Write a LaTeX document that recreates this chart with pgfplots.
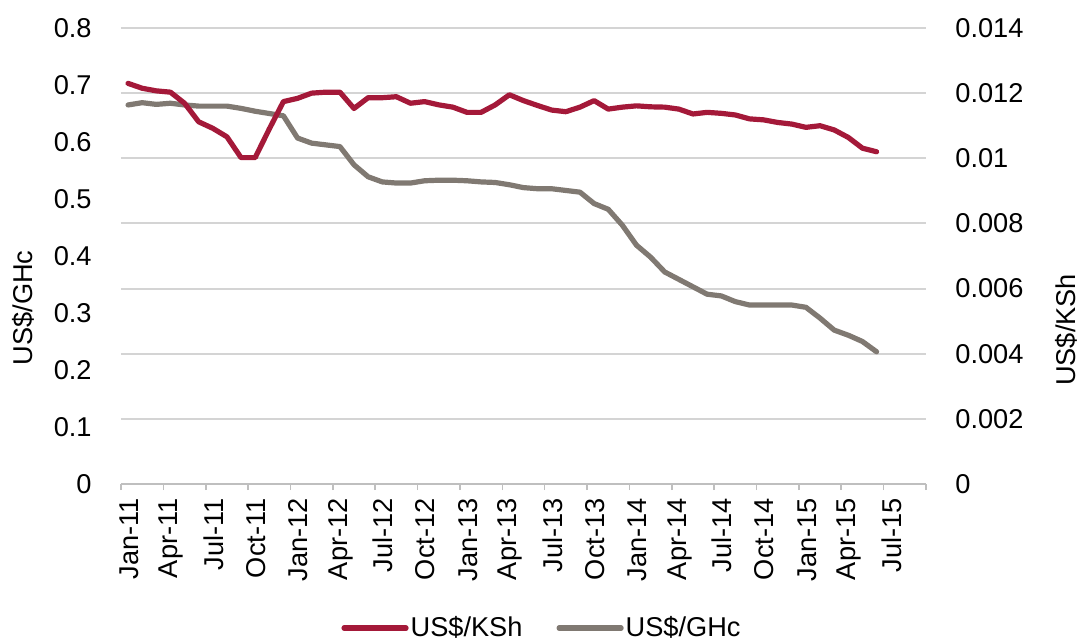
\documentclass[border=0pt]{standalone}
\usepackage{pgfplots}
\pgfplotsset{compat=1.18}
\usepackage{fontspec}
\setmainfont{Liberation Sans}
\definecolor{kshred}{RGB}{164,25,57}
\definecolor{ghcgray}{RGB}{128,121,114}
\definecolor{gridgray}{RGB}{212,212,212}
\definecolor{axgray}{RGB}{191,191,191}
\begin{document}
\begin{tikzpicture}[font=\fontsize{13.6}{16}\selectfont]
\path[use as bounding box] (-60.5pt,-79.5pt) rectangle (478.5pt,242pt);
\begin{axis}[
  at={(0,0)}, anchor=south west,
  scale only axis, width=402.5pt, height=228pt,
  xmin=0, xmax=57, ymin=0, ymax=0.8,
  axis x line*=bottom, axis y line*=left,
  y axis line style={draw=none},
  x axis line style={axgray, line width=0.8pt},
  xtick={0,3,...,57},
  xticklabels={Jan-11,Apr-11,Jul-11,Oct-11,Jan-12,Apr-12,Jul-12,Oct-12,Jan-13,Apr-13,Jul-13,Oct-13,Jan-14,Apr-14,Jul-14,Oct-14,Jan-15,Apr-15,Jul-15,{}},
  xtick style={axgray, line width=0.8pt},
  tick align=outside, major tick length=3pt,
  xticklabel style={rotate=90, anchor=east, xshift=-4pt, inner sep=0pt, yshift=-4pt},
  ytick={0,0.1,0.2,0.3,0.4,0.5,0.6,0.7,0.8},
  yticklabels={0,0.1,0.2,0.3,0.4,0.5,0.6,0.7,0.8},
  ytick style={draw=none},
  yticklabel style={anchor=east, inner sep=0pt, xshift=-11.5pt},
  extra y ticks={0.1142857,0.2285714,0.3428571,0.4571429,0.5714286,0.6857143,0.8},
  extra y tick labels={},
  extra y tick style={ymajorgrids=true, major grid style={gridgray, line width=1pt}, tick style={draw=none}},
  ylabel={US\$/GHc},
  every axis y label/.style={at={(axis description cs:-0.1217,0.386)}, rotate=90, anchor=center},
  clip=false,
]
\addplot[ghcgray, line width=2.6pt, line join=round, line cap=round] table {
x y
0.5 0.665
1.5 0.669
2.5 0.666
3.5 0.668
4.5 0.665
5.5 0.663
6.5 0.663
7.5 0.663
8.5 0.659
9.5 0.654
10.5 0.650
11.5 0.646
12.5 0.607
13.5 0.598
14.5 0.595
15.5 0.592
16.5 0.560
17.5 0.539
18.5 0.530
19.5 0.528
20.5 0.528
21.5 0.532
22.5 0.533
23.5 0.533
24.5 0.532
25.5 0.530
26.5 0.529
27.5 0.525
28.5 0.520
29.5 0.518
30.5 0.518
31.5 0.515
32.5 0.512
33.5 0.492
34.5 0.482
35.5 0.454
36.5 0.419
37.5 0.398
38.5 0.372
39.5 0.359
40.5 0.346
41.5 0.333
42.5 0.330
43.5 0.320
44.5 0.314
45.5 0.314
46.5 0.314
47.5 0.314
48.5 0.310
49.5 0.291
50.5 0.270
51.5 0.261
52.5 0.250
53.5 0.232
};
\end{axis}
\begin{axis}[
  at={(0,0)}, anchor=south west,
  scale only axis, width=402.5pt, height=228pt,
  xmin=0, xmax=57, ymin=0, ymax=0.014,
  axis x line=none, axis y line*=right,
  y axis line style={draw=none},
  ytick={0,0.002,0.004,0.006,0.008,0.01,0.012,0.014},
  yticklabels={0,0.002,0.004,0.006,0.008,0.01,0.012,0.014},
  scaled y ticks=false,
  ytick style={draw=none},
  yticklabel style={anchor=west, inner sep=0pt, xshift=14.5pt},
  ylabel={US\$/KSh},
  every axis y label/.style={at={(axis description cs:1.174,0.338)}, rotate=90, anchor=center},
  legend columns=2,
  legend style={at={(axis description cs:0.523,-0.316)}, anchor=center, draw=none, fill=none,
    /tikz/every even column/.append style={column sep=16pt},
    inner sep=0pt, nodes={inner sep=1pt}},
  legend image code/.code={\draw[#1, line width=2.6pt, line cap=round] (0pt,0pt) -- (31pt,0pt);},
  clip=false,
]
\addplot[kshred, line width=2.6pt, line join=round, line cap=round] table {
x y
0.5 0.01230
1.5 0.01215
2.5 0.01207
3.5 0.01203
4.5 0.01169
5.5 0.01112
6.5 0.01092
7.5 0.01066
8.5 0.01002
9.5 0.01002
10.5 0.01090
11.5 0.01174
12.5 0.01184
13.5 0.01200
14.5 0.01203
15.5 0.01203
16.5 0.01153
17.5 0.01186
18.5 0.01186
19.5 0.01189
20.5 0.01169
21.5 0.01174
22.5 0.01164
23.5 0.01157
24.5 0.01141
25.5 0.01141
26.5 0.01164
27.5 0.01195
28.5 0.01177
29.5 0.01162
30.5 0.01148
31.5 0.01143
32.5 0.01157
33.5 0.01177
34.5 0.01151
35.5 0.01157
36.5 0.01161
37.5 0.01158
38.5 0.01157
39.5 0.01151
40.5 0.01136
41.5 0.01141
42.5 0.01138
43.5 0.01133
44.5 0.01121
45.5 0.01118
46.5 0.01110
47.5 0.01105
48.5 0.01095
49.5 0.01100
50.5 0.01087
51.5 0.01064
52.5 0.01031
53.5 0.01020
};
\addlegendentry{US\$/KSh}
\addlegendimage{ghcgray}
\addlegendentry{US\$/GHc}
\end{axis}
\end{tikzpicture}
\end{document}
